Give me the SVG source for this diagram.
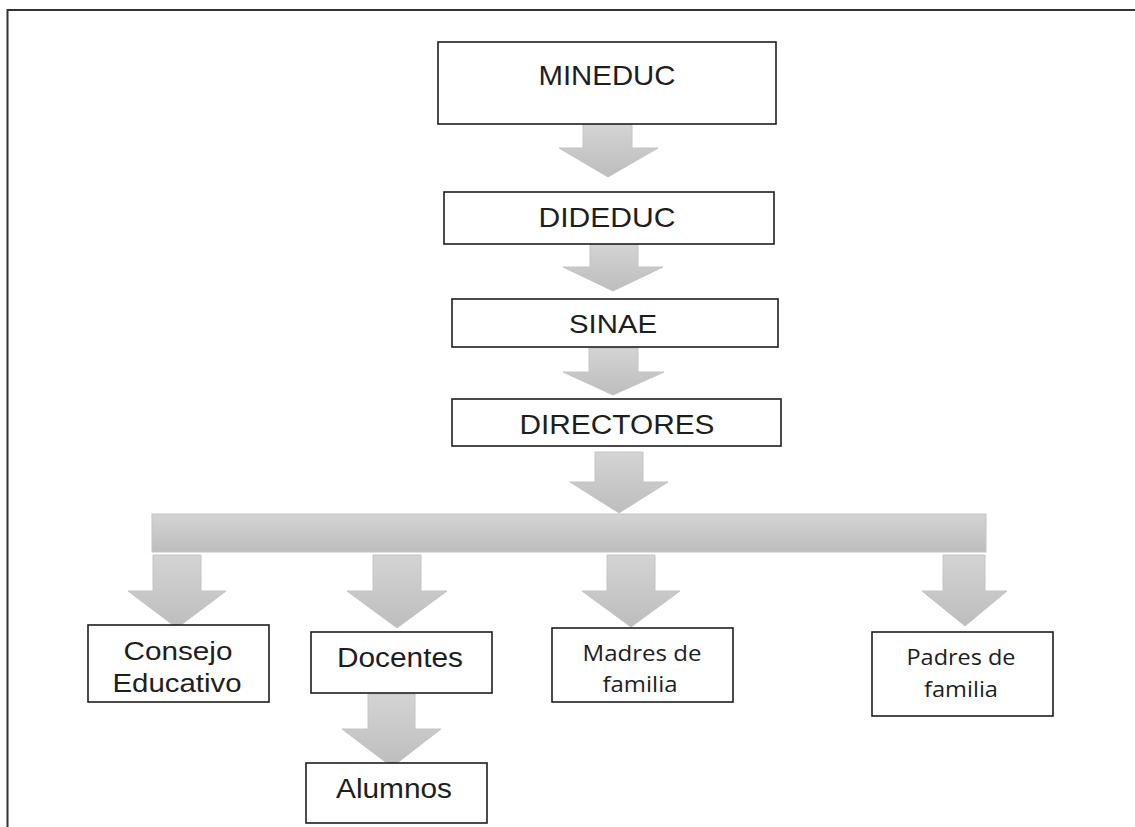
<svg xmlns="http://www.w3.org/2000/svg" width="1135" height="827" viewBox="0 0 1135 827">
<defs>
<linearGradient id="g" x1="0" y1="0" x2="0" y2="1">
<stop offset="0" stop-color="#d4d4d4"/>
<stop offset="1" stop-color="#bdbdbd"/>
</linearGradient>
<style>
.box{fill:#fff;stroke:#1e1e1e;stroke-width:1.6}
.arr{fill:url(#g);stroke:#c4c4c4;stroke-width:1}
.t{font-family:"Liberation Sans",Arial,sans-serif;fill:#1e1e1e;text-anchor:middle}
.c{font-family:"Open Sans","Noto Sans",sans-serif;fill:#1e1e1e;text-anchor:middle}
</style>
</defs>
<rect width="1135" height="827" fill="#fff"/>
<path d="M7.5,827 V10 H1135" fill="none" stroke="#333" stroke-width="2"/>
<g id="connectors">
<path class="arr" d="M583,124 H632 V148 H658 L608,177 L559,148 H583 Z"/>
<path class="arr" d="M590,244 H638 V267 H663 L613,291 L563,267 H590 Z"/>
<path class="arr" d="M589,348 H638 V372 H664 L613,395 L563,372 H589 Z"/>
<path class="arr" d="M595,452 H643 V482 H668 L619,513 L570,482 H595 Z"/>
<rect id="bar" class="arr" x="152" y="514" width="834" height="38"/>
<path class="arr" d="M153,555 H201 V591 H226 L177,628 L128,591 H153 Z"/>
<path class="arr" d="M373,555 H421 V591 H447 L397,628 L347,591 H373 Z"/>
<path class="arr" d="M368,694 H415 V729 H441 L392,767 L342,729 H368 Z"/>
<path class="arr" d="M607,555 H655 V591 H680 L631,627 L582,591 H607 Z"/>
<path class="arr" d="M943,555 H985 V591 H1007 L965,626 L922,591 H943 Z"/>
</g>
<g id="mineduc">
<rect class="box" x="438" y="42" width="338" height="82"/>
<text class="t" x="607" y="85" font-size="28" textLength="137" lengthAdjust="spacingAndGlyphs">MINEDUC</text>
</g>
<g id="dideduc">
<rect class="box" x="444" y="192" width="330" height="52"/>
<text class="t" x="607" y="227" font-size="28" textLength="137" lengthAdjust="spacingAndGlyphs">DIDEDUC</text>
</g>
<g id="sinae">
<rect class="box" x="452" y="299" width="326" height="48"/>
<text class="t" x="613" y="333" font-size="26" textLength="88" lengthAdjust="spacingAndGlyphs">SINAE</text>
</g>
<g id="directores">
<rect class="box" x="452" y="399" width="329" height="47"/>
<text class="t" x="617" y="434" font-size="27" textLength="195" lengthAdjust="spacingAndGlyphs">DIRECTORES</text>
</g>
<g id="consejo">
<rect class="box" x="88" y="625" width="181" height="77"/>
<text class="t" x="178" y="660" font-size="26" textLength="109" lengthAdjust="spacingAndGlyphs">Consejo</text>
<text class="t" x="177" y="692" font-size="26" textLength="129" lengthAdjust="spacingAndGlyphs">Educativo</text>
</g>
<g id="docentes">
<rect class="box" x="311" y="632" width="181" height="61"/>
<text class="t" x="400" y="667" font-size="27" textLength="126" lengthAdjust="spacingAndGlyphs">Docentes</text>
</g>
<g id="alumnos">
<rect class="box" x="306" y="763" width="181" height="60"/>
<text class="t" x="394" y="798" font-size="27" textLength="116" lengthAdjust="spacingAndGlyphs">Alumnos</text>
</g>
<g id="madres">
<rect class="box" x="552" y="628" width="181" height="74"/>
<text class="c" x="642" y="661" font-size="22.5" textLength="119" lengthAdjust="spacingAndGlyphs">Madres de</text>
<text class="c" x="640" y="692" font-size="22.5" textLength="75" lengthAdjust="spacingAndGlyphs">familia</text>
</g>
<g id="padres">
<rect class="box" x="872" y="632" width="181" height="84"/>
<text class="c" x="961" y="665" font-size="22.5" textLength="109" lengthAdjust="spacingAndGlyphs">Padres de</text>
<text class="c" x="961" y="697" font-size="22.5" textLength="74" lengthAdjust="spacingAndGlyphs">familia</text>
</g>
</svg>
